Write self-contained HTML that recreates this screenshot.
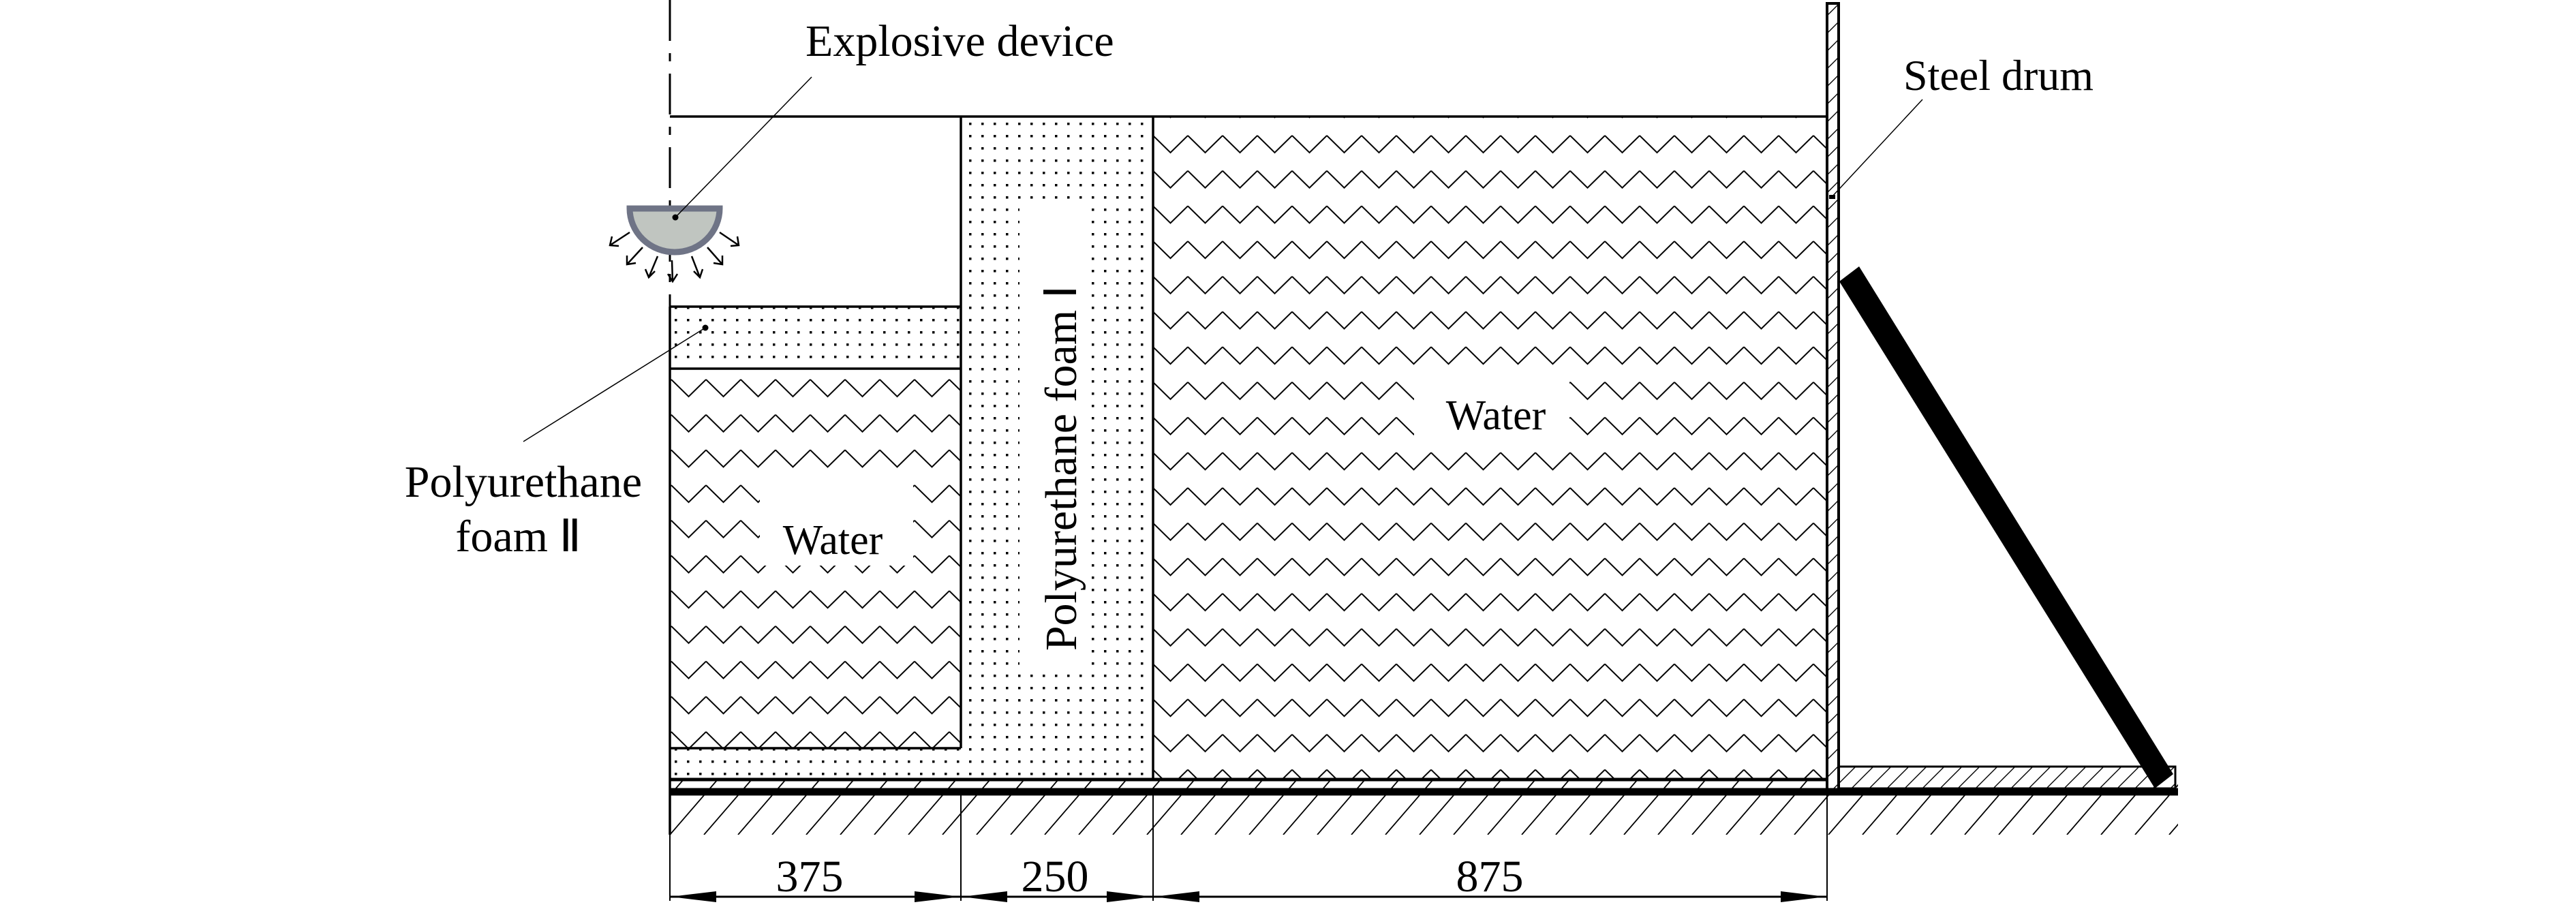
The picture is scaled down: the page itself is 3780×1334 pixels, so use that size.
<!DOCTYPE html>
<html><head><meta charset="utf-8"><style>
html,body{margin:0;padding:0;background:#fff;}
svg{display:block;}
</style></head><body>
<svg width="3780" height="1334" viewBox="0 0 3780 1334" xmlns="http://www.w3.org/2000/svg" font-family="'Liberation Serif','Times New Roman',serif">
<defs>
<pattern id="zzBig" patternUnits="userSpaceOnUse" x="1692" y="198" width="51" height="51.7">
<path d="M0,1 L25.5,26 L51,1" fill="none" stroke="#000" stroke-width="2"/>
</pattern>
<pattern id="zzSmall" patternUnits="userSpaceOnUse" x="985" y="556" width="51" height="51.7">
<path d="M0,1 L25.5,26 L51,1" fill="none" stroke="#000" stroke-width="2"/>
</pattern>
<pattern id="dots" patternUnits="userSpaceOnUse" x="990" y="180" width="18" height="18">
<rect x="0" y="0" width="3.5" height="3.5" fill="#000"/>
</pattern>
<pattern id="hatch" patternUnits="userSpaceOnUse" x="983" y="1144" width="50" height="81">
<path d="M0,81 L70,0 M-50,81 L20,0 M50,81 L120,0" stroke="#000" stroke-width="1.8" fill="none"/>
</pattern>
<pattern id="hatchS" patternUnits="userSpaceOnUse" x="0" y="0" width="26" height="26">
<path d="M0,26 L26,0 M-13,13 L13,-13 M13,39 L39,13" stroke="#000" stroke-width="1.4" fill="none"/>
</pattern>
</defs>

<rect x="1692" y="171" width="988" height="973" fill="url(#zzBig)"/>
<rect x="1410" y="171" width="282" height="973" fill="url(#dots)"/>
<rect x="983" y="450" width="427" height="91" fill="url(#dots)"/>
<rect x="983" y="541" width="427" height="557" fill="url(#zzSmall)"/>
<rect x="983" y="1098" width="427" height="46" fill="url(#dots)"/>
<rect x="2075" y="552" width="228" height="92" fill="#fff"/>
<rect x="1115" y="700" width="225" height="130" fill="#fff"/>
<rect x="1496" y="300" width="102" height="680" fill="#fff"/>

<rect x="983" y="1144" width="2213" height="81" fill="url(#hatch)"/>
<rect x="2698" y="1125" width="494" height="32" fill="#fff"/>
<rect x="2698" y="1125" width="494" height="32" fill="url(#hatchS)" stroke="#000" stroke-width="3"/>
<rect x="2681" y="5" width="17" height="1157" fill="#fff"/>
<rect x="2681" y="5" width="17" height="1157" fill="url(#hatchS)" stroke="#000" stroke-width="4"/>

<g stroke="#000" stroke-width="3.5" fill="none">
<line x1="983" y1="171" x2="2681" y2="171"/>
<line x1="1410" y1="171" x2="1410" y2="1098"/>
<line x1="1692" y1="171" x2="1692" y2="1144"/>
<line x1="983" y1="450" x2="1410" y2="450"/>
<line x1="983" y1="541" x2="1410" y2="541"/>
<line x1="983" y1="1098" x2="1410" y2="1098"/>
<line x1="983" y1="450" x2="983" y2="1225"/>
<line x1="983" y1="1144" x2="2681" y2="1144" stroke-width="5"/>
</g>
<line x1="983" y1="1162" x2="3196" y2="1162" stroke="#000" stroke-width="11"/>
<line x1="983" y1="0" x2="983" y2="450" stroke="#000" stroke-width="3" stroke-dasharray="60 18 12 18"/>

<polygon points="2699,413 2728,391 3189,1136 3162,1157" fill="#000"/>

<path d="M924,306 A66,64 0 0 0 1056,306 Z" fill="#c0c5c0" stroke="#6f7486" stroke-width="9"/>
<circle cx="991" cy="319" r="4.5" fill="#000"/>
<g stroke="#000" stroke-width="2.5" fill="none">
<line x1="924" y1="341" x2="895" y2="360"/><path d="M898,347 L895,360 L908,361"/>
<line x1="943" y1="363" x2="920" y2="388"/><path d="M920,375 L920,388 L933,386"/>
<line x1="965" y1="376" x2="952" y2="407"/><path d="M947,395 L952,407 L961,398"/>
<line x1="986" y1="382" x2="987" y2="413"/><path d="M980,402 L987,413 L994,402"/>
<line x1="1015" y1="376" x2="1027" y2="407"/><path d="M1018,398 L1027,407 L1031,395"/>
<line x1="1038" y1="363" x2="1060" y2="388"/><path d="M1047,386 L1060,388 L1060,375"/>
<line x1="1056" y1="341" x2="1084" y2="360"/><path d="M1072,361 L1084,360 L1082,347"/>
</g>

<g stroke="#000" stroke-width="1.5">
<line x1="1191" y1="113" x2="991" y2="319"/>
<line x1="768" y1="648" x2="1035" y2="481"/>
<line x1="2821" y1="146" x2="2688" y2="289"/>
</g>
<circle cx="1035" cy="481" r="4.5" fill="#000"/>
<rect x="2684" y="286" width="9" height="6" fill="#000"/>

<g fill="#000">
<text x="1182" y="82" font-size="66">Explosive device</text>
<text x="2793" y="132" font-size="64">Steel drum</text>
<text x="942" y="729" font-size="66" text-anchor="end">Polyurethane</text>
<text x="853" y="809" font-size="66" text-anchor="end">foam Ⅱ</text>
<text x="2195" y="630" font-size="62" text-anchor="middle">Water</text>
<text x="1222" y="813" font-size="62" text-anchor="middle">Water</text>
<text transform="translate(1579,687) rotate(-90)" font-size="66" text-anchor="middle">Polyurethane foam Ⅰ</text>
</g>

<g stroke="#000" stroke-width="2">
<line x1="983" y1="1225" x2="983" y2="1322"/>
<line x1="1410" y1="1162" x2="1410" y2="1322"/>
<line x1="1692" y1="1162" x2="1692" y2="1322"/>
<line x1="2681" y1="1162" x2="2681" y2="1322"/>
<line x1="983" y1="1316" x2="2681" y2="1316" stroke-width="3"/>
</g>
<g fill="#000">
<polygon points="984,1316 1051,1308 1051,1324"/>
<polygon points="1409,1316 1342,1308 1342,1324"/>
<polygon points="1411,1316 1478,1308 1478,1324"/>
<polygon points="1691,1316 1624,1308 1624,1324"/>
<polygon points="1693,1316 1760,1308 1760,1324"/>
<polygon points="2680,1316 2613,1308 2613,1324"/>
</g>
<g fill="#000">
<text x="1188" y="1308" font-size="66" text-anchor="middle">375</text>
<text x="1548" y="1308" font-size="66" text-anchor="middle">250</text>
<text x="2186" y="1308" font-size="66" text-anchor="middle">875</text>
</g>
</svg>
</body></html>
